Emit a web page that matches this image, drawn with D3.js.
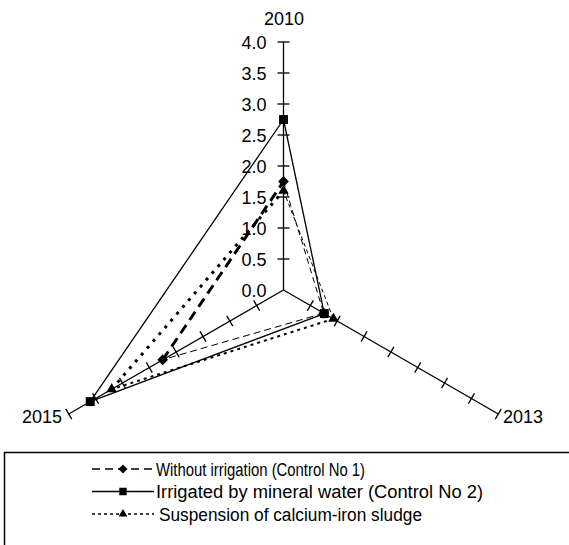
<!DOCTYPE html>
<html>
<head>
<meta charset="utf-8">
<script src="https://cdn.jsdelivr.net/npm/d3@7"></script>
<style>
  body { margin: 0; background: #fff; }
  text { font-family: Arial, "Liberation Sans", sans-serif; fill: #000; }
</style>
</head>
<body>
<div id="chart"></div>
<script>
// radar chart data
var years = ["2010", "2013", "2015"];
var seriesNames = ["Without irrigation (Control No 1)", "Irrigated by mineral water (Control No 2)", "Suspension of calcium-iron sludge"];
var withoutIrrigation = [1.75, 0.75, 2.25];
var mineralWater = [2.75, 0.76, 3.6];
var sludge = [1.6, 0.93, 3.2];
var tickValues = [0, 0.5, 1, 1.5, 2, 2.5, 3, 3.5, 4];

var W = 569, H = 545;
var cx = 283.5, cy = 290;

var svg = d3.select("#chart").append("svg").attr("width", W).attr("height", H);

var r = d3.scaleLinear().domain([0, 4]).range([0, 248]);
// angle for each category, 2010 straight up
var ang = d3.scalePoint().domain(years).range([0, 240]);
function pt(year, v) {
    var a = (ang(year) - 90) * Math.PI / 180;
    return [cx + r(v) * Math.cos(a), cy + r(v) * Math.sin(a)];
}

// axes + ticks
var axes = svg.append("g");
years.forEach(function (y) {
    var end = pt(y, 4);
    axes.append("line").attr("x1", cx).attr("y1", cy).attr("x2", end[0]).attr("y2", end[1])
        .attr("stroke", "#000").attr("stroke-width", 1.3);
    var a = (ang(y) - 90) * Math.PI / 180;
    var nx = -Math.sin(a), ny = Math.cos(a);
    tickValues.slice(1).forEach(function (t) {
        var p = pt(y, t);
        axes.append("line")
            .attr("x1", p[0] - nx * 6).attr("y1", p[1] - ny * 6)
            .attr("x2", p[0] + nx * 6).attr("y2", p[1] + ny * 6)
            .attr("stroke", "#000").attr("stroke-width", 1.3);
    });
});

// value labels on the 2010 axis
axes.selectAll("text.tick").data(tickValues).enter().append("text")
    .attr("class", "tick")
    .attr("x", cx - 17)
    .attr("y", function (d) { return pt("2010", d)[1] + 6.5; })
    .attr("text-anchor", "end")
    .style("font-size", "18px")
    .text(function (d) { return d3.format(".1f")(d); });

// category labels
var catPos = {"2010": [284, 25, "middle"], "2013": [503, 423, "start"], "2015": [62, 423, "end"]};
years.forEach(function (y) {
    svg.append("text").attr("x", catPos[y][0]).attr("y", catPos[y][1])
        .attr("text-anchor", catPos[y][2]).style("font-size", "18px").text(y);
});

// series styles, one entry per edge (2010-2013, 2013-2015, 2015-2010)
var styles = [
    {dash: ["6,4", "7,4", "10,6"], width: [1, 1, 3], marker: "diamond"},
    {dash: [null, null, null], width: [1.3, 1.3, 1.3], marker: "square"},
    {dash: ["4,3", "3,4", "3,6"], width: [1, 2, 3], marker: "triangle"}
];
var allSeries = [withoutIrrigation, mineralWater, sludge];

// diamond = square turned 45deg (excel style), not d3's narrow diamond
var symbolType = {diamond: d3.symbolSquare, square: d3.symbolSquare, triangle: d3.symbolTriangle};
var symbolSize = {diamond: 58, square: 80, triangle: 48};
var symbolRot = {diamond: 45, square: 0, triangle: 0};

var plot = svg.append("g");
allSeries.forEach(function (vals, si) {
    var st = styles[si];
    var pts = years.map(function (y, i) { return pt(y, vals[i]); });
    for (var k = 0; k < pts.length; k++) {
        var a = pts[k], b = pts[(k + 1) % pts.length];
        plot.append("line").attr("x1", a[0]).attr("y1", a[1]).attr("x2", b[0]).attr("y2", b[1])
            .attr("stroke", "#000").attr("stroke-width", st.width[k])
            .attr("stroke-dasharray", st.dash[k]);
    }
    plot.selectAll("path.m" + si).data(pts).enter().append("path")
        .attr("class", "m" + si)
        .attr("transform", function (d) { return "translate(" + d[0] + "," + d[1] + ") rotate(" + symbolRot[st.marker] + ")"; })
        .attr("d", d3.symbol().type(symbolType[st.marker]).size(symbolSize[st.marker]))
        .attr("fill", "#000");
});

// legend
var lg = svg.append("g");
lg.append("rect").attr("x", 4.5).attr("y", 452.5).attr("width", 600).attr("height", 200)
    .attr("fill", "none").attr("stroke", "#000").attr("stroke-width", 1.5);
var rowY = [469, 491.5, 514];
var textLen = [209, 327, 263];
seriesNames.forEach(function (name, i) {
    var st = styles[i];
    var row = lg.append("g").attr("transform", "translate(0," + rowY[i] + ")");
    row.append("line").attr("x1", 92).attr("x2", 154).attr("y1", 0).attr("y2", 0)
        .attr("stroke", "#000").attr("stroke-width", 1.3)
        .attr("stroke-dasharray", i == 0 ? "8,5" : (i == 2 ? "3,3" : null));
    row.append("path").attr("transform", "translate(123,0) rotate(" + symbolRot[st.marker] + ")")
        .attr("d", d3.symbol().type(symbolType[st.marker]).size(symbolSize[st.marker] * 0.7))
        .attr("fill", "#000");
    row.append("text").attr("x", i == 2 ? 159 : 156).attr("y", 6.5)
        .style("font-size", "18px")
        .attr("textLength", textLen[i]).attr("lengthAdjust", "spacingAndGlyphs")
        .text(name);
});
</script>
</body>
</html>
